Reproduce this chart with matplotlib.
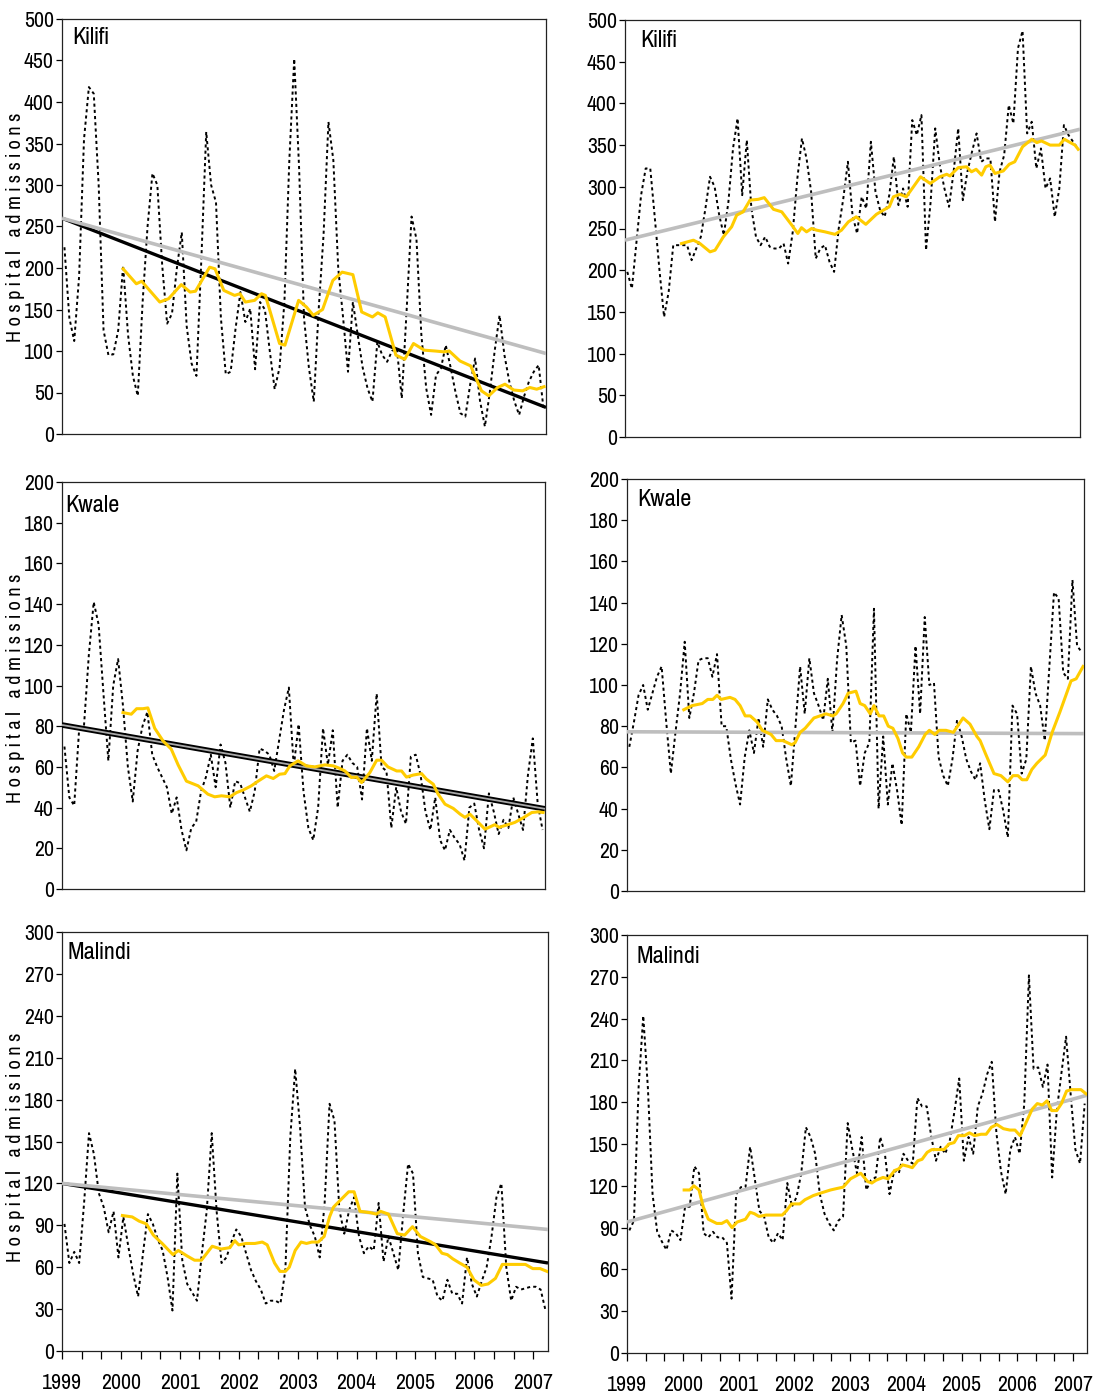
import matplotlib
matplotlib.use("Agg")
import matplotlib.pyplot as plt
from matplotlib.ticker import MultipleLocator
from matplotlib import font_manager as fm

_names = {f.name for f in fm.fontManager.ttflist}
FONT = None
for cand in ['Arial Narrow', 'Liberation Sans Narrow', 'Pragati Narrow', 'Roboto Condensed',
             'Archivo Narrow']:
    if cand in _names:
        FONT = cand
        break
if FONT is not None:
    plt.rcParams['font.family'] = [FONT, 'DejaVu Sans']
else:
    plt.rcParams['font.family'] = ['DejaVu Sans']
    plt.rcParams['font.stretch'] = 'condensed'

# ---------------- data ----------------
years = ['1999', '2000', '2001', '2002', '2003', '2004', '2005', '2006', '2007']
n_months = 99  # Jan 1999 .. Mar 2007

# Kilifi, left column (monthly admissions)
kilifi_a = [225, 140, 112, 190, 355, 418, 410, 300, 125, 95,
            96, 125, 203, 120, 70, 46, 160, 250, 314, 300,
            203, 133, 145, 200, 243, 130, 85, 70, 210, 364,
            300, 279, 140, 72, 75, 127, 171, 135, 151, 78,
            159, 150, 100, 54, 80, 160, 330, 452, 320, 140,
            80, 39, 150, 240, 376, 330, 200, 140, 75, 159,
            119, 80, 55, 39, 111, 95, 87, 100, 103, 43,
            150, 262, 235, 120, 55, 23, 71, 79, 107, 80,
            50, 25, 21, 60, 91, 40, 9, 50, 100, 143,
            95, 63, 40, 23, 45, 63, 75, 83, 30]
kilifi_a_ma_month = [12.5, 15.2, 16.3, 20, 21.8, 24.4, 26.2, 27.3, 30.2, 31.3, 33.1, 35.3, 36.4, 37.5, 39.4,
                     40.8, 41.6, 44.5, 45.6, 48.4, 50, 51.4, 53.3, 55.4, 57.3, 59.5, 61.3, 63.5, 64.6, 66.1,
                     68.3, 70.1, 71.9, 74.1, 76.3, 78.1, 79.2, 81.4, 83.6, 85.8, 87.3, 89.1, 90.6, 92.4, 94.2,
                     95.7, 97.1, 98.6]
kilifi_a_ma = [199, 181, 184, 159, 163, 180, 171, 172, 201, 199, 173, 167, 169, 159, 161,
               169, 167, 109, 107, 161, 153, 143, 150, 185, 195, 192, 147, 141, 146, 141,
               95, 90, 109, 101, 100, 99, 100, 88, 82, 52, 46, 56, 60, 53, 52,
               56, 54, 57]
kilifi_a_trend_black = [260, 32]
kilifi_a_trend_gray = [260, 97]

# Kilifi, right column
kilifi_b = [198, 178, 234, 290, 322, 322, 262, 200, 144, 174,
            230, 230, 230, 230, 212, 226, 240, 274, 312, 300,
            266, 242, 282, 346, 382, 290, 356, 274, 240, 230,
            240, 228, 226, 226, 232, 208, 246, 310, 358, 334,
            294, 214, 226, 230, 210, 198, 250, 286, 330, 266,
            244, 288, 274, 354, 294, 272, 264, 290, 336, 278,
            298, 276, 380, 362, 386, 224, 282, 370, 326, 298,
            276, 318, 370, 284, 318, 342, 364, 330, 334, 334,
            258, 318, 338, 398, 376, 466, 487, 364, 378, 322,
            346, 298, 310, 264, 298, 374, 362, 354, 346]
kilifi_b_ma_month = [12.3, 14.9, 16.3, 18.5, 19.6, 21.4, 23.2, 24.3, 25.7, 27.2, 29, 30.3, 32.3, 34.1, 36.3,
                     37.6, 38.4, 39.5, 40.6, 41.7, 43.5, 45.7, 47.1, 48.6, 50.3, 52.4, 54.7, 56.2, 57.5, 58.4,
                     59.8, 61.2, 64.3, 66.4, 68.5, 70, 70.7, 71.4, 72.5, 74.3, 75.4, 76.4, 77.6, 78.5, 79.4,
                     80.5, 82.3, 83.6, 84.8, 86.5, 88.5, 89.6, 90.6, 92.5, 94.5, 95.6, 96.9, 97.9, 98.6]
kilifi_b_ma = [232, 236, 232, 222, 224, 240, 252, 266, 270, 284, 285, 287, 273, 270, 254,
               244, 251, 246, 250, 248, 246, 243, 248, 258, 264, 255, 267, 272, 276, 288,
               291, 288, 312, 304, 312, 315, 313, 317, 323, 324, 318, 321, 314, 324, 326,
               316, 319, 327, 330, 348, 357, 353, 355, 350, 350, 357, 353, 350, 345]
kilifi_b_trend_gray = [236, 369]

# Kwale, left column
kwale_a = [70, 45, 41, 78, 80, 115, 141, 130, 96, 63,
           100, 113, 90, 60, 43, 68, 80, 87, 66, 60,
           55, 50, 37, 45, 29, 19, 30, 33, 48, 55,
           66, 50, 71, 62, 40, 53, 52, 45, 38, 48,
           69, 68, 66, 58, 73, 88, 99, 60, 81, 48,
           30, 24, 40, 79, 61, 78, 40, 63, 66, 62,
           60, 44, 79, 63, 96, 60, 58, 30, 50, 38,
           32, 65, 66, 56, 38, 29, 45, 24, 19, 29,
           25, 22, 14, 40, 42, 29, 20, 47, 38, 27,
           34, 30, 45, 37, 29, 56, 74, 42, 29]
kwale_a_ma_month = [12.5, 14.2, 15.3, 16.6, 17.6, 19, 20.7, 22.4, 23.8, 25.5, 27.9, 29.9, 31.3, 32.7, 34.4,
                    35.8, 37.1, 38.8, 40.2, 41.9, 43.3, 44.6, 45.7, 46.7, 48.4, 50.1, 51.8, 53.9, 55.6, 56.8,
                    58, 59.3, 60.4, 61.4, 63.1, 64.5, 65.5, 66.8, 68.6, 69.6, 70.6, 72, 73.7, 74.7, 76.1,
                    77.1, 78.5, 80.2, 81.6, 82.6, 83.6, 85, 86.7, 88.7, 89.6, 91.1, 92.8, 94.4, 96.3, 97.6,
                    98.6]
kwale_a_ma = [86.7, 85.9, 88.6, 88.6, 89, 79, 72.8, 68.7, 61, 53, 50.7, 46.6, 45.3, 45.8, 45.3,
              47.4, 48.6, 50.7, 53, 55.6, 54.3, 56.4, 56.7, 60.5, 63, 60.5, 60, 61, 60.5, 59.4,
              58, 54.8, 55, 52.3, 57.2, 63.3, 63.3, 60, 58, 58, 55, 56, 56.7, 54, 51.5,
              46.6, 41.7, 39.6, 36.8, 35.2, 36.8, 33.5, 29.4, 31.6, 30.3, 31.4, 32.7, 34.8, 37.6, 37.9,
              37.6]
kwale_a_trend_black = [80.6, 39.4]
kwale_a_trend_gray = [80.6, 39.4]

# Kwale, right column
kwale_b = [70, 82, 95, 100, 88, 96, 104, 109, 82, 57,
           77, 96, 121, 84, 96, 112, 113, 113, 104, 115,
           80, 80, 64, 52, 42, 65, 78, 67, 84, 70,
           93, 88, 85, 80, 64, 51, 80, 109, 86, 113,
           96, 90, 83, 103, 77, 112, 134, 119, 72, 73,
           51, 67, 72, 137, 40, 75, 42, 62, 49, 32,
           86, 77, 119, 86, 133, 100, 101, 65, 56, 51,
           64, 83, 75, 64, 58, 54, 62, 44, 30, 49,
           49, 39, 26, 90, 86, 57, 64, 109, 96, 90,
           73, 109, 145, 142, 106, 103, 151, 119, 116]
kwale_b_ma_month = [12.3, 14.1, 16.3, 17.5, 18.6, 19.5, 20.4, 22.3, 23.4, 24.5, 25.6, 26.7, 28.2, 29.3, 31.2,
                    32.3, 33.8, 35.7, 36.4, 37.5, 38.6, 40.5, 43.1, 44.6, 45.3, 46.8, 47.9, 49.6, 50.5, 51.5,
                    52.7, 53.5, 54.6, 55.6, 56.6, 57.6, 58.7, 59.7, 60.5, 61.7, 63.2, 64.6, 65.5, 66.7, 67.6,
                    69.1, 70.7, 72.8, 74.3, 75.8, 76.5, 77.6, 79.5, 81, 82.5, 83.6, 84.7, 85.6, 86.6, 87.7,
                    88.8, 90.6, 92.1, 93.8, 96.2, 97.3, 98.8]
kwale_b_ma = [88, 90, 91, 93, 93, 95, 93, 94, 93, 90, 85, 85, 82, 78, 76,
              73, 73, 71, 72, 77, 79, 84, 86, 85, 86, 91, 96, 97, 91, 90,
              86, 90, 85, 85, 80, 79, 74, 67, 65, 65, 70, 76, 78, 76, 78,
              78, 77, 84, 81, 75, 73, 67, 57, 56, 53, 56, 56, 54, 54, 59,
              62, 66, 77, 87, 102, 103, 109]
kwale_b_trend_gray = [77.3, 76.4]

# Malindi, left column
malindi_a = [91, 63, 71, 63, 106, 156, 141, 113, 103, 85,
             100, 67, 96, 75, 55, 39, 70, 98, 91, 80,
             72, 53, 29, 127, 65, 48, 42, 36, 70, 101,
             156, 100, 63, 67, 78, 87, 82, 70, 58, 50,
             44, 34, 36, 36, 34, 58, 153, 202, 160, 103,
             90, 82, 67, 106, 177, 165, 101, 84, 101, 110,
             82, 70, 75, 72, 106, 64, 82, 70, 58, 98,
             134, 127, 70, 53, 52, 51, 39, 36, 51, 41,
             41, 34, 67, 48, 39, 50, 60, 82, 110, 120,
             60, 36, 46, 44, 45, 46, 46, 44, 29]
malindi_a_ma_month = [12.3, 14.3, 15.7, 17.2, 18.6, 20.4, 22.6, 23.7, 25.5, 27, 28.4, 30.6, 32.4, 34.2, 35.2,
                      36, 37.5, 39.3, 40.8, 41.8, 43.3, 44.4, 45.5, 46.3, 47.5, 48.7, 49.8, 50.9, 52.2, 53.4,
                      54.5, 55.3, 56.7, 58.4, 59.5, 60.7, 62.9, 64, 64.9, 66.5, 68.3, 69.8, 71.4, 73, 75.2,
                      76.1, 77.4, 78.5, 79.6, 81, 82.5, 83.9, 85.4, 86.8, 88.3, 89.7, 91.2, 92.9, 94.4, 95.9,
                      97.4, 98.8]
malindi_a_ma = [97, 96, 93, 91, 83, 77, 69, 72, 68, 65, 65, 75, 73, 74, 79,
                76, 77, 77, 78, 76, 63, 57, 57, 60, 72, 78, 77, 78, 78, 82,
                96, 103, 108, 114, 114, 100, 99, 98, 100, 98, 84, 83, 89, 82, 78,
                76, 70, 69, 66, 63, 60, 51, 47, 48, 52, 62, 62, 62, 62, 59,
                59, 57]
malindi_a_trend_black = [120, 63]
malindi_a_trend_gray = [120, 87]

# Malindi, right column
malindi_b = [88, 95, 191, 242, 190, 114, 87, 80, 74, 88,
             86, 81, 105, 105, 134, 129, 86, 83, 87, 83,
             83, 79, 39, 114, 119, 119, 148, 125, 102, 98,
             83, 79, 86, 81, 122, 105, 112, 129, 162, 155,
             143, 114, 100, 93, 88, 95, 98, 165, 146, 129,
             155, 117, 124, 126, 155, 143, 114, 131, 129, 143,
             138, 136, 183, 177, 177, 155, 138, 148, 143, 153,
             174, 197, 138, 155, 143, 177, 186, 200, 209, 158,
             130, 114, 146, 155, 143, 179, 271, 204, 205, 191,
             207, 126, 174, 201, 227, 185, 146, 136, 179]
malindi_b_ma_month = [12.3, 13.5, 14.4, 15.5, 16.4, 17.5, 19.3, 20.4, 21.5, 22.6, 23.7, 25.5, 26.5, 27.4, 28.4,
                      29.9, 31.7, 33.4, 34.3, 35.4, 37.2, 38.3, 40.1, 41.9, 43.8, 45.1, 46.5, 48.1, 49.2, 50.3,
                      51.8, 52.7, 53.6, 55.1, 56.2, 57.6, 58.4, 59.3, 60.5, 61.4, 62.6, 63.5, 64.6, 65.6, 67.1,
                      68.2, 69.3, 70.4, 71.3, 72.6, 73.7, 74.8, 76.2, 77.3, 78.4, 79.6, 81, 82.4, 83.5, 84.6,
                      85.7, 87.2, 88.3, 89.4, 90.4, 91.4, 92.5, 93.5, 94.6, 95.6, 96.6, 97.7, 98.8]
malindi_b_ma = [117, 117, 120, 117, 105, 96, 93, 93, 95, 90, 94, 96, 101, 100, 98,
                99, 99, 99, 102, 107, 107, 110, 113, 115, 117, 118, 119, 125, 127, 129,
                123, 122, 124, 126, 125, 131, 132, 135, 134, 133, 138, 139, 144, 146, 146,
                146, 150, 151, 156, 156, 158, 156, 157, 157, 162, 164, 161, 160, 160, 156,
                164, 175, 179, 178, 181, 174, 174, 179, 188, 189, 189, 189, 186]
malindi_b_trend_gray = [94, 185]

# ---------------- figure ----------------
W, H = 1096, 1395
fig = plt.figure(figsize=(W / 100, H / 100), dpi=100)

YELLOW = '#FFCC00'
GRAY = '#BEBEBE'
FS = 17
TITLE_FS = 19


def add_ax(l, t, r, b):
    return fig.add_axes([l / W, 1 - b / H, (r - l) / W, (b - t) / H])


month_x = [i + 0.5 for i in range(n_months)]


def panel(ax, name, counts, ma_m, ma_v, ymax, ystep, gray=None, black=None,
          double=False, bottom=False, title_xy=(0.02, 0.97)):
    ax.plot(month_x, counts, color='black', lw=1.4, linestyle=(0, (1.6, 1.6)), zorder=2)
    if black is not None:
        ax.plot([0, n_months], black, color='black', lw=4.0 if double else 2.4,
                solid_capstyle='butt', zorder=3)
    if gray is not None:
        ax.plot([0, n_months], gray, color='#a8a8a8' if double else GRAY,
                lw=1.3 if double else 2.6, solid_capstyle='butt', zorder=3)
    ax.plot(ma_m, ma_v, color=YELLOW, lw=2.2, zorder=4)
    ax.set_xlim(0, n_months)
    ax.set_ylim(0, ymax)
    ax.yaxis.set_major_locator(MultipleLocator(ystep))
    ax.tick_params(axis='y', direction='out', length=4, width=0.9, pad=2, labelsize=FS)
    for s in ax.spines.values():
        s.set_linewidth(0.9)
        s.set_color('#222222')
    if bottom:
        ax.set_xticks([12 * k for k in range(len(years))])
        ax.set_xticklabels(years)
        ax.set_xticks([4 * k for k in range(25)], minor=True)
        ax.tick_params(axis='x', which='both', direction='out', length=6, width=0.9,
                       pad=10, labelsize=FS)
    else:
        ax.set_xticks([])
    ax.text(title_xy[0], title_xy[1], name, transform=ax.transAxes, ha='left', va='top',
            fontsize=TITLE_FS)


ylabel = '\u2009'.join('Hospital') + '\u2009\u2009\u2009' + '\u2009'.join('admissions')
YL_X = 16 / W
YL_FS = 16

ax = add_ax(62, 19, 546, 434)
panel(ax, 'Kilifi', kilifi_a, kilifi_a_ma_month, kilifi_a_ma, 500, 50,
      gray=kilifi_a_trend_gray, black=kilifi_a_trend_black, title_xy=(0.022, 0.98))
fig.text(YL_X, 1 - 227 / H, ylabel, rotation=90, ha='center', va='center', fontsize=YL_FS)

ax = add_ax(625, 20, 1080, 437)
panel(ax, 'Kilifi', kilifi_b, kilifi_b_ma_month, kilifi_b_ma, 500, 50,
      gray=kilifi_b_trend_gray, title_xy=(0.033, 0.975))

ax = add_ax(62, 482, 545, 889)
panel(ax, 'Kwale', kwale_a, kwale_a_ma_month, kwale_a_ma, 200, 20,
      gray=kwale_a_trend_gray, black=kwale_a_trend_black, double=True, title_xy=(0.006, 0.967))
fig.text(YL_X, 1 - 688 / H, ylabel, rotation=90, ha='center', va='center', fontsize=YL_FS)

ax = add_ax(627, 479, 1084, 891)
panel(ax, 'Kwale', kwale_b, kwale_b_ma_month, kwale_b_ma, 200, 20,
      gray=kwale_b_trend_gray, title_xy=(0.023, 0.975))

ax = add_ax(62, 932, 548, 1351)
panel(ax, 'Malindi', malindi_a, malindi_a_ma_month, malindi_a_ma, 300, 30,
      gray=malindi_a_trend_gray, black=malindi_a_trend_black, bottom=True, title_xy=(0.012, 0.977))
fig.text(YL_X, 1 - 1147 / H, ylabel, rotation=90, ha='center', va='center', fontsize=YL_FS)

ax = add_ax(627, 935, 1087, 1353)
panel(ax, 'Malindi', malindi_b, malindi_b_ma_month, malindi_b_ma, 300, 30,
      gray=malindi_b_trend_gray, bottom=True, title_xy=(0.02, 0.973))

fig.savefig('out.png', dpi=100)
